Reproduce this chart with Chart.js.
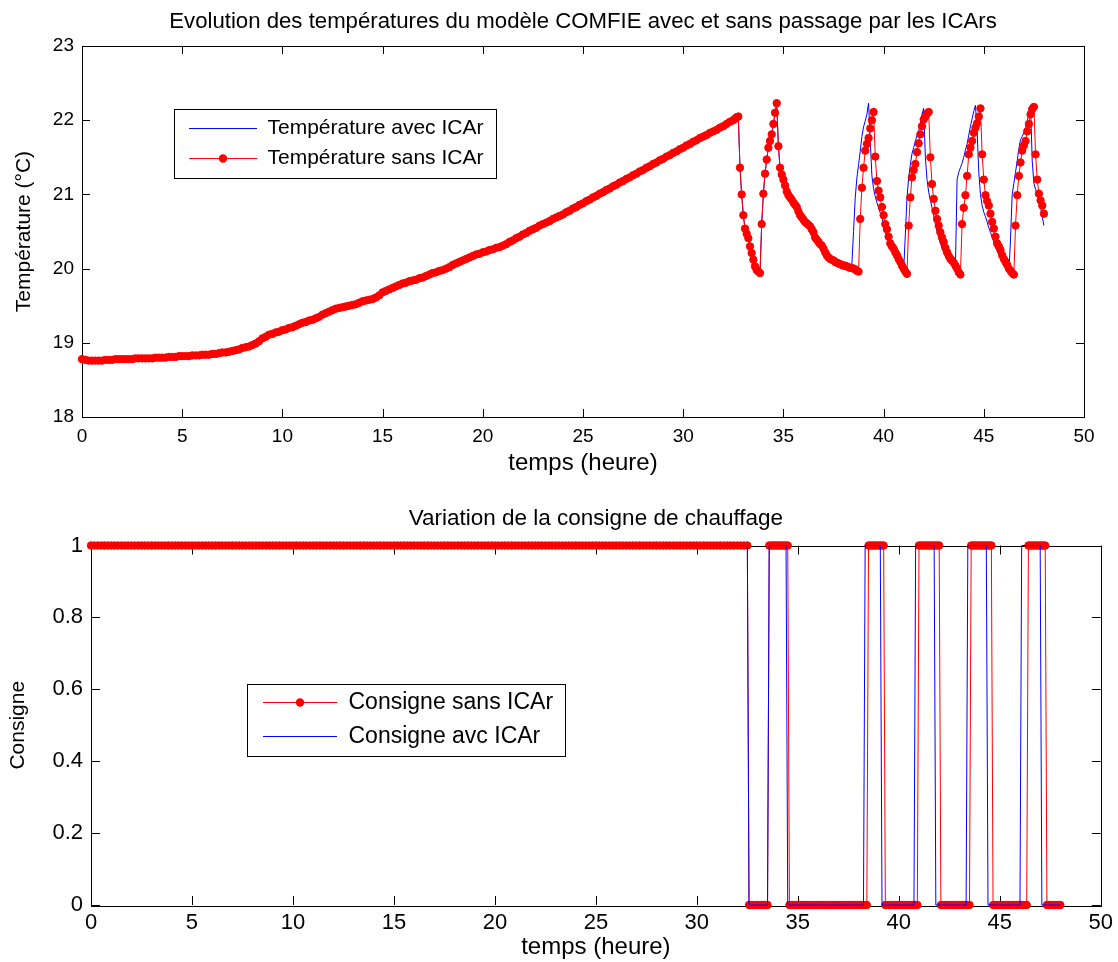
<!DOCTYPE html>
<html>
<head>
<meta charset="utf-8">
<script src="https://cdn.jsdelivr.net/npm/chart.js@4.4.1/dist/chart.umd.min.js"></script>
<style>
html,body{margin:0;padding:0;background:#fff;width:1118px;height:962px;overflow:hidden}
canvas{position:absolute;left:0}
#topChart{top:0}
#bottomChart{top:481px}
</style>
</head>
<body>
<canvas id="topChart" width="1118" height="481"></canvas>
<canvas id="bottomChart" width="1118" height="481"></canvas>
<script>
// ---------------- DATA ----------------
// time grid: 10-min samples from 0 h to 32.5 h, then 5-min samples from 32.583 h to 48 h
const smoothStepH = 1 / 6;
const cycleStartH = 32.5;
const cycleStepH = 1 / 12;

// Temperature (°C), smooth part 0 .. 32.5 h (same for both models)
const tempSmooth = [
  18.78,18.77,18.76,18.76,18.76,18.76, 18.76,18.77,18.77,18.77,18.78,18.78,
  18.78,18.78,18.78,18.78,18.79,18.79, 18.79,18.79,18.79,18.79,18.80,18.80,
  18.80,18.80,18.81,18.81,18.81,18.82, 18.82,18.82,18.82,18.83,18.83,18.83,
  18.84,18.84,18.84,18.85,18.85,18.86, 18.87,18.87,18.88,18.89,18.90,18.91,
  18.93,18.94,18.95,18.97,18.99,19.02, 19.06,19.08,19.11,19.12,19.14,19.15,
  19.17,19.18,19.20,19.21,19.23,19.25, 19.27,19.28,19.30,19.31,19.33,19.35,
  19.38,19.40,19.42,19.44,19.46,19.47, 19.48,19.49,19.50,19.51,19.52,19.54,
  19.56,19.57,19.58,19.59,19.61,19.64, 19.68,19.70,19.72,19.74,19.76,19.78,
  19.80,19.81,19.83,19.84,19.85,19.87, 19.88,19.90,19.92,19.94,19.95,19.97,
  19.98,20.00,20.02,20.05,20.07,20.09, 20.11,20.13,20.15,20.17,20.19,20.20,
  20.22,20.23,20.25,20.26,20.28,20.29, 20.31,20.33,20.36,20.38,20.41,20.43,
  20.46,20.48,20.51,20.53,20.55,20.58, 20.60,20.62,20.64,20.67,20.69,20.71,
  20.73,20.76,20.78,20.81,20.83,20.86, 20.88,20.91,20.93,20.96,20.98,21.01,
  21.03,21.06,21.08,21.11,21.13,21.16, 21.18,21.21,21.23,21.26,21.28,21.31,
  21.33,21.36,21.38,21.41,21.43,21.46, 21.48,21.51,21.53,21.56,21.58,21.61,
  21.63,21.66,21.68,21.71,21.73,21.76, 21.78,21.80,21.83,21.85,21.87,21.90,
  21.92,21.95,21.98,22.00
];

// Temperature sans ICAr, 32.583 .. 48 h
const tempCycleSans = [
  22.02,22.04,22.05,21.36,21.00,20.72,20.54,20.47,20.41,20.30,
  20.21,20.12,20.03,19.98,19.96,19.94,20.60,21.01,21.28,21.47,
  21.63,21.72,21.81,21.95,22.10,22.23,21.65,21.36,21.27,21.20,
  21.12,21.04,20.99,20.96,20.93,20.89,20.86,20.83,20.77,20.72,
  20.69,20.66,20.63,20.61,20.59,20.57,20.53,20.49,20.42,20.39,
  20.36,20.33,20.31,20.27,20.22,20.18,20.15,20.13,20.12,20.11,
  20.09,20.08,20.07,20.06,20.05,20.04,20.04,20.03,20.02,20.01,
  20.01,20.00,19.99,19.97,19.96,20.67,21.09,21.36,21.59,21.68,
  21.76,21.89,22.00,22.11,21.51,21.18,21.05,20.96,20.83,20.72,
  20.60,20.53,20.43,20.34,20.30,20.27,20.22,20.18,20.13,20.09,
  20.04,20.00,19.96,19.93,20.58,20.96,21.23,21.33,21.41,21.57,
  21.69,21.81,21.92,22.01,22.05,22.09,22.11,21.50,21.14,20.94,
  20.78,20.67,20.58,20.49,20.42,20.36,20.28,20.22,20.17,20.13,
  20.11,20.08,20.04,20.00,19.95,19.92,20.60,20.82,20.99,21.25,
  21.54,21.63,21.72,21.83,21.90,21.96,22.05,22.16,21.54,21.20,
  20.99,20.91,20.85,20.74,20.63,20.54,20.43,20.34,20.30,20.25,
  20.18,20.13,20.09,20.05,20.00,19.97,19.94,19.92,20.58,20.99,
  21.25,21.43,21.59,21.66,21.72,21.85,21.95,22.08,22.15,22.18,
  21.54,21.20,21.01,20.92,20.85,20.74
];

// Temperature avec ICAr: identical to the other model until 38.25 h, then its own values
const avecSharedCycleCount = 69;
const tempCycleAvecTail = [
  20.01,20.06,20.50,20.95,21.22,21.40,21.58,21.78,21.91,21.99,
  22.08,22.23,21.73,21.25,21.08,20.97,20.89,20.82,20.75,20.68,
  20.60,20.50,20.42,20.37,20.32,20.27,20.23,20.18,20.13,20.09,
  20.05,20.01,19.97,20.45,20.95,21.22,21.40,21.55,21.63,21.72,
  21.79,21.85,21.95,22.08,22.16,21.50,21.20,21.03,20.92,20.82,
  20.72,20.60,20.50,20.42,20.34,20.28,20.22,20.17,20.14,20.10,
  20.06,20.04,20.03,20.01,21.20,21.30,21.36,21.42,21.50,21.60,
  21.68,21.80,21.92,22.02,22.12,22.20,21.86,21.30,21.00,20.85,
  20.76,20.70,20.63,20.55,20.49,20.42,20.36,20.29,20.24,20.19,
  20.14,20.10,20.06,20.02,19.97,19.93,20.40,21.00,21.15,21.30,
  21.45,21.62,21.74,21.78,21.83,21.90,21.98,22.10,22.20,21.45,
  21.15,21.07,21.00,20.92,20.83,20.70,20.58
];

// Consigne sans ICAr (0/1) on the same time grid
const consigneSmoothSans = [
  1,1,1,1,1,1,1,1,1,1,1,1, 1,1,1,1,1,1,1,1,1,1,1,1,
  1,1,1,1,1,1,1,1,1,1,1,1, 1,1,1,1,1,1,1,1,1,1,1,1,
  1,1,1,1,1,1,1,1,1,1,1,1, 1,1,1,1,1,1,1,1,1,1,1,1,
  1,1,1,1,1,1,1,1,1,1,1,1, 1,1,1,1,1,1,1,1,1,1,1,1,
  1,1,1,1,1,1,1,1,1,1,1,1, 1,1,1,1,1,1,1,1,1,1,1,1,
  1,1,1,1,1,1,1,1,1,1,1,1, 1,1,1,1,1,1,1,1,1,1,1,1,
  1,1,1,1,1,1,1,1,1,1,1,1, 1,1,1,1,1,1,1,1,1,1,1,1,
  1,1,1,1,1,1,1,1,1,1,1,1, 1,1,1,1,1,1,1,1,1,1,1,1,
  1,1,1,1
];
const consigneCycleSans = [
  0,0,0,0,0,0,0,0,0,0, 0,0,1,1,1,1,1,1,1,1, 1,1,1,1,0,0,0,0,0,0,
  0,0,0,0,0,0,0,0,0,0, 0,0,0,0,0,0,0,0,0,0, 0,0,0,0,0,0,0,0,0,0,
  0,0,0,0,0,0,0,0,0,0, 0,1,1,1,1,1,1,1,1,1, 1,0,0,0,0,0,0,0,0,0,
  0,0,0,0,0,0,0,0,0,0, 0,1,1,1,1,1,1,1,1,1, 1,1,1,1,0,0,0,0,0,0,
  0,0,0,0,0,0,0,0,0,0, 0,0,1,1,1,1,1,1,1,1, 1,1,1,1,1,0,0,0,0,0,
  0,0,0,0,0,0,0,0,0,0, 0,0,0,0,0,0,1,1,1,1, 1,1,1,1,1,1,1,0,0,0,
  0,0,0,0,0,0
];

// Consigne avc ICAr: switching instants (h) and levels
const consigneAvcTime = [0, 32.5, 32.583, 33.5, 33.583, 34.417, 34.5, 38.25, 38.333, 39.083, 39.167,
  40.75, 40.833, 41.75, 41.833, 43.333, 43.417, 44.333, 44.417, 46.0, 46.083, 47.0, 47.083, 48.0];
const consigneAvcValue = [1, 1, 0, 0, 1, 1, 0, 0, 1, 1, 0, 0, 1, 1, 0, 0, 1, 1, 0, 0, 1, 1, 0, 0];

const tempTicksY = { min: 18, max: 23, step: 1 };
const consigneTicksY = { min: 0, max: 1, step: 0.2 };
const timeTicksX = { min: 0, max: 50, step: 5 };

// ---------------- BUILD ----------------
const smoothTime = tempSmooth.map((_, i) => i * smoothStepH);
const cycleTime = tempCycleSans.map((_, k) => cycleStartH + (k + 1) * cycleStepH);
const timeH = smoothTime.concat(cycleTime);
const tempSans = tempSmooth.concat(tempCycleSans);
const tempAvec = tempSmooth.concat(tempCycleSans.slice(0, avecSharedCycleCount), tempCycleAvecTail);
const consigneSans = consigneSmoothSans.concat(consigneCycleSans);
const pts = (xs, ys) => ys.map((y, i) => ({ x: xs[i], y }));

const FONT = "'Liberation Sans', Arial, Helvetica, sans-serif";
const RED = '#ff0000', BLUE = '#0000ff';

const matlabPlugin = {
  id: 'matlab',
  afterLayout(chart, args, o) {
    const lg = chart.legend, a = chart.chartArea;
    if (!lg) return;
    lg.left = a.left + o.legendX;
    lg.top = a.top + o.legendY;
    lg.right = lg.left + lg.width;
    lg.bottom = lg.top + lg.height;
  },
  beforeDatasetsDraw(chart, args, o) {
    const { ctx, chartArea: a, scales: { x, y } } = chart;
    const L = o.tickLen;
    ctx.save();
    ctx.strokeStyle = '#000';
    ctx.lineWidth = 1;
    ctx.beginPath();
    x.ticks.forEach(t => {
      const px = Math.round(x.getPixelForValue(t.value)) + 0.5;
      ctx.moveTo(px, a.bottom); ctx.lineTo(px, a.bottom - L);
      ctx.moveTo(px, a.top); ctx.lineTo(px, a.top + L);
    });
    y.ticks.forEach(t => {
      const py = Math.round(y.getPixelForValue(t.value)) + 0.5;
      ctx.moveTo(a.left, py); ctx.lineTo(a.left + L, py);
      ctx.moveTo(a.right, py); ctx.lineTo(a.right - L, py);
    });
    ctx.stroke();
    ctx.strokeRect(Math.round(a.left) + 0.5, Math.round(a.top) + 0.5,
      Math.round(a.right - a.left), Math.round(a.bottom - a.top));
    ctx.restore();
  },
  afterDraw(chart, args, o) {
    const lg = chart.legend;
    if (!lg || !lg.legendHitBoxes) return;
    const { ctx } = chart;
    const hbs = lg.legendHitBoxes, items = lg.legendItems;
    const fs = lg.options.labels.font.size;
    const bw = lg.options.labels.pointStyleWidth;
    let l = Infinity, r = -Infinity, t = Infinity, b = -Infinity;
    hbs.forEach(h => {
      l = Math.min(l, h.left); r = Math.max(r, h.left + h.width);
      t = Math.min(t, h.top); b = Math.max(b, h.top + h.height);
    });
    ctx.save();
    ctx.strokeStyle = '#000';
    ctx.lineWidth = 1;
    const bl = Math.round(l - o.boxPad[0]), bt = Math.round(t - o.boxPad[1]);
    const br = Math.round(r + o.boxPad[2]), bb = Math.round(b + o.boxPad[3]);
    ctx.strokeRect(bl + 0.5, bt + 0.5, br - bl, bb - bt);
    items.forEach((it, i) => {
      const ds = chart.data.datasets[it.datasetIndex];
      if (ds.pointRadius > 0) {
        ctx.fillStyle = ds.pointBackgroundColor;
        ctx.beginPath();
        ctx.arc(hbs[i].left + bw / 2, hbs[i].top + fs / 2, ds.pointRadius + 0.5, 0, Math.PI * 2);
        ctx.fill();
      }
    });
    ctx.restore();
  }
};

function axisX(tickSize, tickPad, titleSize, titlePadBottom, height) {
  return {
    type: 'linear', min: timeTicksX.min, max: timeTicksX.max,
    ticks: { stepSize: timeTicksX.step, color: '#000', padding: tickPad, font: { family: FONT, size: tickSize }, maxRotation: 0 },
    grid: { display: false, drawTicks: false },
    border: { display: false },
    title: { display: true, text: 'temps (heure)', color: '#000', font: { family: FONT, size: titleSize }, padding: { top: 0, bottom: titlePadBottom } },
    afterFit(s) { s.height = height; }
  };
}
function axisY(range, title, tickSize, tickPad, titleSize, titlePadTop, width) {
  return {
    type: 'linear', min: range.min, max: range.max,
    ticks: {
      stepSize: range.step, color: '#000', padding: tickPad, font: { family: FONT, size: tickSize },
      callback: (v) => String(Math.round(v * 100) / 100)
    },
    grid: { display: false, drawTicks: false },
    border: { display: false },
    title: { display: true, text: title, color: '#000', font: { family: FONT, size: titleSize }, padding: { top: titlePadTop, bottom: 0 } },
    afterFit(s) { s.width = width; }
  };
}
function legendOpts(fontSize, pad, sampleWidth) {
  return {
    display: true, position: 'chartArea', align: 'start',
    labels: {
      usePointStyle: true, pointStyle: 'line', pointStyleWidth: sampleWidth,
      color: '#000', padding: pad, font: { family: FONT, size: fontSize },
      sort: (a, b) => b.datasetIndex - a.datasetIndex
    }
  };
}

// ---------------- TOP CHART ----------------
new Chart(document.getElementById('topChart'), {
  type: 'line',
  data: {
    datasets: [
      {
        label: 'Température sans ICAr', data: pts(timeH, tempSans),
        borderColor: RED, borderWidth: 1, backgroundColor: RED,
        pointRadius: 3.7, pointBorderWidth: 1, pointBackgroundColor: RED, pointBorderColor: RED,
        pointHoverRadius: 3.7, tension: 0, clip: false
      },
      {
        label: 'Température avec ICAr', data: pts(timeH, tempAvec),
        borderColor: BLUE, borderWidth: 1, backgroundColor: BLUE,
        pointRadius: 0, pointHoverRadius: 0, tension: 0
      }
    ]
  },
  options: {
    responsive: false, animation: false, devicePixelRatio: 1, events: [],
    layout: { padding: { left: 0, right: 34, top: 0, bottom: 0 } },
    scales: {
      x: axisX(19, 8, 24, 3.6, 64),
      y: axisY(tempTicksY, 'Température (°C)', 19, 8, 21, 12, 82)
    },
    plugins: {
      title: {
        display: true, color: '#000', fullSize: false,
        text: 'Evolution des températures du modèle COMFIE avec et sans passage par les ICArs',
        font: { family: FONT, size: 22.2, weight: 'normal' }, padding: { top: 8.7, bottom: 10.7 }
      },
      legend: legendOpts(21, 9, 68),
      tooltip: { enabled: false },
      matlab: { tickLen: 8, legendX: 98, legendY: 63, boxPad: [15, 9.5, 13, 8.5] }
    }
  },
  plugins: [matlabPlugin]
});

// ---------------- BOTTOM CHART ----------------
new Chart(document.getElementById('bottomChart'), {
  type: 'line',
  data: {
    datasets: [
      {
        label: 'Consigne avc ICAr', data: pts(consigneAvcTime, consigneAvcValue),
        borderColor: BLUE, borderWidth: 1, backgroundColor: BLUE,
        pointRadius: 0, pointHoverRadius: 0, tension: 0, clip: false
      },
      {
        label: 'Consigne sans ICAr', data: pts(timeH, consigneSans),
        borderColor: RED, borderWidth: 1, backgroundColor: RED,
        pointRadius: 3.7, pointBorderWidth: 1, pointBackgroundColor: RED, pointBorderColor: RED,
        pointHoverRadius: 3.7, tension: 0, clip: false
      }
    ]
  },
  options: {
    responsive: false, animation: false, devicePixelRatio: 1, events: [],
    layout: { padding: { left: 0, right: 15, top: 0, bottom: 0 } },
    scales: {
      x: axisX(22, 5, 24, 0, 57),
      y: axisY(consigneTicksY, 'Consigne', 22, 8, 21, 5.5, 91)
    },
    plugins: {
      title: {
        display: true, color: '#000', fullSize: false,
        text: 'Variation de la consigne de chauffage',
        font: { family: FONT, size: 22.5, weight: 'normal' }, padding: { top: 24.5, bottom: 13 }
      },
      legend: legendOpts(23, 11, 74),
      tooltip: { enabled: false },
      matlab: { tickLen: 9, legendX: 161, legendY: 134.5, boxPad: [16, 7.5, 11.5, 7.5] }
    }
  },
  plugins: [matlabPlugin]
});
</script>
</body>
</html>
